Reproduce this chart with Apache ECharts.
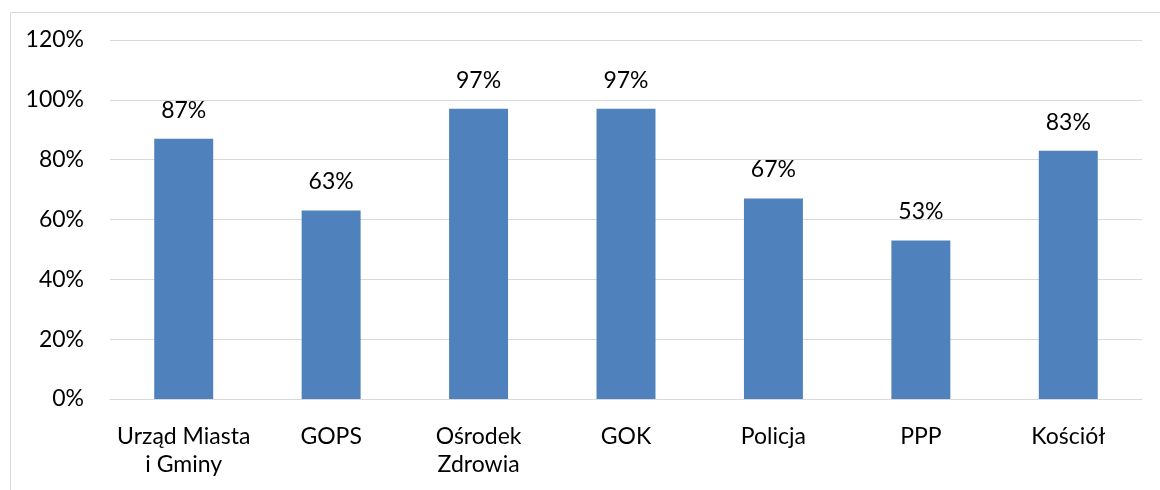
<!DOCTYPE html>
<html>
<head>
<meta charset="utf-8">
<script src="https://cdn.jsdelivr.net/npm/echarts@6/dist/echarts.min.js"></script>
<style>
  html, body { margin: 0; padding: 0; background: #fff; }
  #main { width: 1160px; height: 490px; }
</style>
</head>
<body>
<div id="main"></div>
<script>
// kategorie i wartości (%)
const categories = ['Urząd Miasta\ni Gminy', 'GOPS', 'Ośrodek\nZdrowia', 'GOK', 'Policja', 'PPP', 'Kościół'];
const values = [87, 63, 97, 97, 67, 53, 83];
const yTicks = [0, 20, 40, 60, 80, 100, 120];

const font = 'Lato, "Open Sans", sans-serif';
const chart = echarts.init(document.getElementById('main'));

const option = {
  animation: false,
  graphic: [{
    type: 'rect',
    left: 8,
    top: 10,
    shape: { width: 1170, height: 500 },
    style: { fill: 'none', stroke: '#d9d9d9', lineWidth: 1 },
    silent: true
  }],
  grid: { left: 110, right: 18, top: 40, bottom: 91 },
  xAxis: {
    type: 'category',
    data: categories,
    axisTick: { show: false },
    axisLine: { lineStyle: { color: '#d9d9d9', width: 1 } },
    axisLabel: {
      color: '#000',
      fontFamily: font,
      fontSize: 23,
      lineHeight: 28,
      margin: 24,
      interval: 0
    }
  },
  yAxis: {
    type: 'value',
    min: yTicks[0],
    max: yTicks[yTicks.length - 1],
    interval: 20,
    axisLine: { show: false },
    axisTick: { show: false },
    splitLine: { lineStyle: { color: '#d9d9d9', width: 1 } },
    axisLabel: {
      color: '#000',
      fontFamily: font,
      fontSize: 23,
      margin: 26,
      formatter: '{value}%'
    }
  },
  series: [{
    type: 'bar',
    data: values,
    barCategoryGap: '60%',
    itemStyle: { color: '#4f81bd' },
    label: {
      show: true,
      position: 'top',
      distance: 17,
      color: '#000',
      fontFamily: font,
      fontSize: 23,
      formatter: '{c}%'
    }
  }]
};

chart.setOption(option);
</script>
</body>
</html>
